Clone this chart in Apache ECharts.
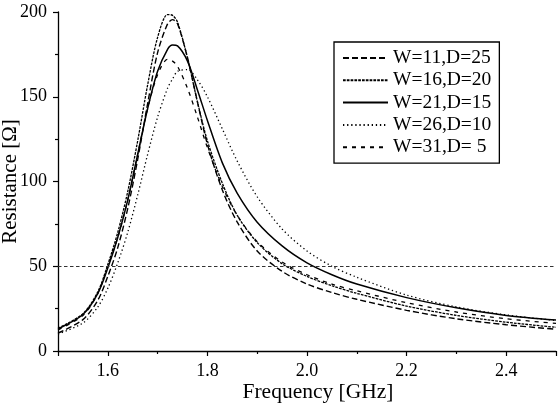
<!DOCTYPE html>
<html lang="en">
<head>
    <meta charset="UTF-8">
    <title>Resistance vs Frequency</title>
    <script src="https://cdn.jsdelivr.net/npm/echarts@6/dist/echarts.min.js"></script>
    <style>
        html, body { margin: 0; padding: 0; background: #fff; }
        #chart { width: 559px; height: 406px; }
    </style>
</head>
<body>
    <div id="chart"></div>
    <script>
        // frequency points (GHz) shared by all curves
        var freqs = [1.50, 1.55, 1.58, 1.60, 1.62, 1.64, 1.66, 1.68, 1.70, 1.72, 1.73, 1.74, 1.76, 1.78,
                     1.80, 1.83, 1.86, 1.90, 1.95, 2.00, 2.05, 2.10, 2.20, 2.30, 2.40, 2.50];

        // resistance values (ohm)
        var r_w11 = [10.5, 18.5, 30, 44, 61, 84, 113, 146, 176, 193, 195.5, 193, 173, 147,
                     122, 95, 76, 59, 47, 39.5, 34.5, 30.5, 24, 19, 15.5, 12.8];
        var r_w16 = [13.5, 22, 35, 51, 70, 94, 124, 157, 185, 198.5, 198, 194, 173, 147,
                     124, 99, 80, 64, 51.5, 44, 38.5, 34, 26.5, 21, 17, 14];
        var r_w21 = [13, 21.5, 34, 49, 67, 89, 116, 143, 165, 178, 180.5, 180, 171, 154,
                     136, 111, 93, 76, 62, 52, 45, 39.5, 31.5, 25.5, 21, 18.3];
        var r_w26 = [10, 16.5, 26, 37, 52, 70, 92, 116, 138, 155, 160.5, 165, 166, 160,
                     150, 131, 112, 91, 72, 59, 50, 43.5, 33, 26, 21.3, 18];
        var r_w31 = [12.5, 21, 34, 50, 67, 89, 116, 143, 163, 172, 171, 168, 155, 138,
                     120, 97, 80, 64.5, 52.5, 45, 39.5, 35.5, 28.5, 23, 19, 16.3];

        var names = ['W=11,D=25', 'W=16,D=20', 'W=21,D=15', 'W=26,D=10', 'W=31,D= 5'];
        var refLevel = 50;

        var font = 'Liberation Serif';

        function pairs(vals) {
            var out = [];
            for (var i = 0; i < freqs.length; i++) {
                out.push([freqs[i], vals[i]]);
            }
            return out;
        }

        function curve(name, vals, dash, width) {
            return {
                name: name,
                type: 'line',
                data: pairs(vals),
                smooth: 0.3,
                symbol: 'none',
                lineStyle: {
                    color: '#000',
                    width: width,
                    type: dash
                },
                itemStyle: { color: '#000' }
            };
        }

        var series = [
            curve(names[0], r_w11, [6, 3], 1.4),
            curve(names[1], r_w16, [2.7, 1.1], 1.3),
            curve(names[2], r_w21, 'solid', 1.5),
            curve(names[3], r_w26, [1.3, 2.8], 1.3),
            curve(names[4], r_w31, [4, 5], 1.3)
        ];

        // horizontal reference line
        series[0].markLine = {
            silent: true,
            symbol: 'none',
            label: { show: false },
            lineStyle: { color: '#333', width: 1, type: [3.5, 2.5] },
            data: [{ yAxis: refLevel }]
        };

        var chart = echarts.init(document.getElementById('chart'));
        chart.setOption({
            animation: false,
            backgroundColor: '#fff',
            textStyle: { fontFamily: font },
            grid: { left: 58, right: 3, top: 12, bottom: 55, containLabel: false, outerBoundsMode: 'none' },
            legend: {
                orient: 'vertical',
                left: 334,
                top: 42,
                padding: [6, 8, 6, 8],
                borderColor: '#000',
                borderWidth: 1.3,
                itemWidth: 45,
                itemHeight: 20,
                itemGap: 2.3,
                itemStyle: { opacity: 0 },
                textStyle: { fontFamily: font, fontSize: 19.5, color: '#000', lineHeight: 20 },
                data: names
            },
            xAxis: {
                type: 'value',
                min: 1.5,
                max: 2.5,
                splitNumber: 5,
                name: 'Frequency [GHz]',
                nameLocation: 'middle',
                nameGap: 30,
                nameMoveOverlap: false,
                nameTextStyle: { fontFamily: font, fontSize: 21.5, color: '#000', padding: [0, 0, 0, 22] },
                axisLine: { lineStyle: { color: '#000', width: 1.3 } },
                axisTick: { length: 5, lineStyle: { color: '#000', width: 1.2 } },
                minorTick: { show: true, splitNumber: 2, length: 3, lineStyle: { color: '#000', width: 1.2 } },
                splitLine: { show: false },
                axisLabel: {
                    showMinLabel: false,
                    showMaxLabel: false,
                    margin: 11,
                    fontFamily: font,
                    fontSize: 18,
                    color: '#000',
                    formatter: function (v) { return v.toFixed(1); }
                }
            },
            yAxis: {
                type: 'value',
                min: 0,
                max: 200,
                interval: 50,
                name: 'Resistance [Ω]',
                nameLocation: 'middle',
                nameGap: 37,
                nameMoveOverlap: false,
                nameTextStyle: { fontFamily: font, fontSize: 21, color: '#000' },
                axisLine: { show: true, lineStyle: { color: '#000', width: 1.3 } },
                axisTick: { show: true, length: 5, lineStyle: { color: '#000', width: 1.2 } },
                minorTick: { show: true, splitNumber: 2, length: 3, lineStyle: { color: '#000', width: 1.2 } },
                splitLine: { show: false },
                axisLabel: { margin: 11, fontFamily: font, fontSize: 18, color: '#000' }
            },
            series: series
        });
    </script>
</body>
</html>
